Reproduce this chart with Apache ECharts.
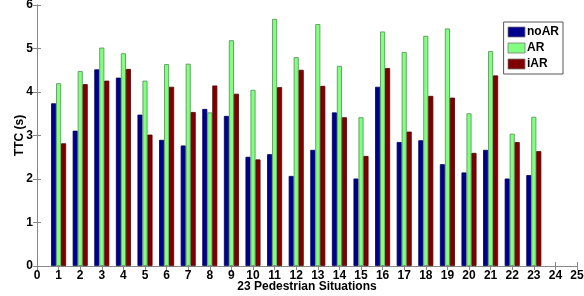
<!DOCTYPE html>
<html>
<head>
<meta charset="utf-8">
<script src="https://cdn.jsdelivr.net/npm/echarts@6/dist/echarts.min.js"></script>
<style>
  html, body { margin: 0; padding: 0; background: #fff; }
  #chart { width: 584px; height: 296px; }
</style>
</head>
<body>
<div id="chart"></div>
<script>
// situations 1..23
const situations = [1, 2, 3, 4, 5, 6, 7, 8, 9, 10, 11, 12, 13, 14, 15, 16, 17, 18, 19, 20, 21, 22, 23];
const noAR = [3.74, 3.11, 4.52, 4.33, 3.48, 2.90, 2.77, 3.61, 3.45, 2.51, 2.57, 2.07, 2.67, 3.53, 2.01, 4.12, 2.85, 2.89, 2.34, 2.15, 2.67, 2.01, 2.09];
const AR = [4.20, 4.48, 5.02, 4.89, 4.26, 4.64, 4.65, 3.53, 5.19, 4.05, 5.68, 4.80, 5.56, 4.60, 3.42, 5.39, 4.92, 5.29, 5.46, 3.51, 4.94, 3.04, 3.43];
const iAR = [2.82, 4.18, 4.26, 4.53, 3.02, 4.12, 3.54, 4.15, 3.96, 2.45, 4.11, 4.51, 4.14, 3.42, 2.53, 4.55, 3.09, 3.91, 3.87, 2.60, 4.38, 2.85, 2.64];

const chart = echarts.init(document.getElementById('chart'));

const labelFont = { fontFamily: 'Liberation Sans, Arial, sans-serif', fontWeight: 'bold', fontSize: 12, color: '#000' };
const axisLine = { show: true, lineStyle: { color: '#888', width: 1 } };
const tickIn = { show: true, inside: true, length: 4, lineStyle: { color: '#888' } };

function makeSeries(name, values, color, border) {
  return {
    name: name,
    type: 'bar',
    barWidth: 5,
    barGap: '0%',
    data: situations.map((s, i) => [s, values[i]]),
    itemStyle: { color: color, borderColor: border, borderWidth: 0.8 }
  };
}

const option = {
  animation: false,
  grid: { left: 37, right: 7, top: 5, bottom: 30, containLabel: false, outerBoundsMode: 'none' },
  legend: {
    right: 21, top: 22,
    orient: 'vertical',
    icon: 'rect',
    itemWidth: 17, itemHeight: 10, itemGap: 4,
    padding: [4, 4, 4, 4],
    borderColor: '#555', borderWidth: 1,
    backgroundColor: '#fff',
    itemStyle: { borderColor: '#777', borderWidth: 0.8 },
    textStyle: { fontFamily: 'Liberation Sans, Arial, sans-serif', fontWeight: 'bold', fontSize: 12, color: '#000', padding: [0, 0, 0, -3] },
    data: ['noAR', 'AR', 'iAR']
  },
  xAxis: [{
    type: 'value', min: 0, max: 25, interval: 1,
    name: '23 Pedestrian Situations', nameLocation: 'middle', nameGap: 15,
    nameMoveOverlap: false,
    nameTextStyle: labelFont,
    axisLine: axisLine, axisTick: tickIn,
    axisLabel: Object.assign({ margin: 4 }, labelFont),
    splitLine: { show: false }
  }, {
    type: 'value', min: 0, max: 25, interval: 1, position: 'top',
    axisLine: axisLine, axisTick: tickIn, axisLabel: { show: false }, splitLine: { show: false }
  }],
  yAxis: [{
    type: 'value', min: 0, max: 6, interval: 1,
    name: 'TTC (s)', nameLocation: 'middle', nameGap: 11, nameRotate: 90,
    nameMoveOverlap: false,
    nameTextStyle: labelFont,
    axisLine: axisLine, axisTick: tickIn,
    axisLabel: Object.assign({ margin: 4 }, labelFont),
    splitLine: { show: false }
  }, {
    type: 'value', min: 0, max: 6, interval: 1, position: 'right',
    axisLine: axisLine, axisTick: tickIn, axisLabel: { show: false }, splitLine: { show: false }
  }],
  series: [
    makeSeries('noAR', noAR, '#00008f', '#000060'),
    makeSeries('AR', AR, '#80ff80', '#4f8f4f'),
    makeSeries('iAR', iAR, '#800000', '#500000')
  ]
};

chart.setOption(option);
</script>
</body>
</html>
